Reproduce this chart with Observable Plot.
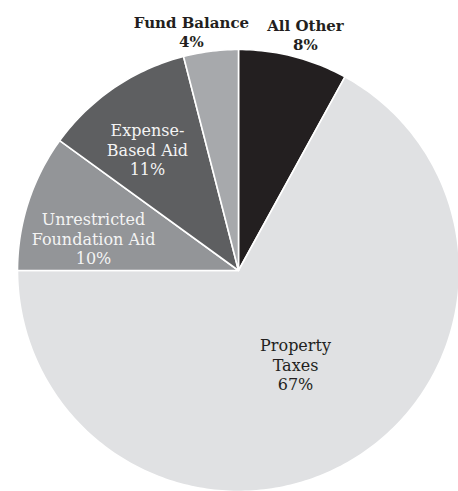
<!DOCTYPE html>
<html>
<head>
<meta charset="utf-8">
<script src="https://cdn.jsdelivr.net/npm/d3@7"></script>
<script src="https://cdn.jsdelivr.net/npm/@observablehq/plot@0.6"></script>
<style>
  html, body { margin: 0; padding: 0; background: #fff; }
</style>
</head>
<body>
<div id="chart"></div>
<script>
// Data (clockwise from 12 o'clock)
const categories = ["All Other", "Property Taxes", "Unrestricted Foundation Aid", "Expense-Based Aid", "Fund Balance"];
const shares = [8, 67, 10, 11, 4];
const labelNames = ["All Other", "Property\nTaxes", "Unrestricted\nFoundation Aid", "Expense-\nBased Aid", "Fund Balance"];
const sliceColors = ["#231f20", "#e0e1e3", "#939598", "#5e5f61", "#a7a9ac"];

// Layout of labels (unit-circle coordinates) and styles
const labelPos = [[0.303, 1.068], [0.258, -0.425], [-0.656, 0.145], [-0.412, 0.548], [-0.213, 1.083]];
const labelInk = ["#231f20", "#231f20", "#f4f4f4", "#f4f4f4", "#231f20"];
const labelWeight = ["bold", "normal", "normal", "normal", "bold"];
const labelSize = [15, 16, 16, 16, 15];

const pie = d3.pie().sort(null).value(d => d.share).startAngle(0).endAngle(2 * Math.PI);
const rows = categories.map((c, i) => ({category: c, share: shares[i]}));
const arcs = pie(rows);

// Slice outlines as closed polygons in unit coordinates
const pts = [];
arcs.forEach(a => {
  const c = a.data.category;
  pts.push({category: c, x: 0, y: 0});
  const n = Math.max(2, Math.ceil((a.endAngle - a.startAngle) / (Math.PI / 180)));
  for (let k = 0; k <= n; k++) {
    const t = a.startAngle + (a.endAngle - a.startAngle) * k / n;
    pts.push({category: c, x: Math.sin(t), y: Math.cos(t)});
  }
  pts.push({category: c, x: 0, y: 0});
});

const labels = categories.map((c, i) => ({
  text: `${labelNames[i]}\n${shares[i]}%`,
  x: labelPos[i][0], y: labelPos[i][1],
  ink: labelInk[i], weight: labelWeight[i], size: labelSize[i]
}));

const textMark = (subset) => Plot.text(subset, {
  x: "x", y: "y", text: "text",
  fill: subset[0].ink, fontSize: subset[0].size, fontWeight: subset[0].weight,
  fontFamily: "DejaVu Serif", lineHeight: subset[0].size === 16 ? 1.2 : 1.25
});

const groups = d3.groups(labels, d => d.ink + "|" + d.weight + "|" + d.size);

const chart = Plot.plot({
  width: 458,
  height: 491,
  margin: 0,
  x: {domain: [-1, 1], range: [17, 459], axis: null},
  y: {domain: [-1, 1], range: [491, 49], axis: null},
  color: {domain: categories, range: sliceColors},
  style: {background: "#fff", fontFamily: "DejaVu Serif"},
  marks: [
    Plot.line(pts, {x: "x", y: "y", z: "category", fill: "category", stroke: "#fff", strokeWidth: 1.6, strokeLinejoin: "round", curve: "linear"}),
    ...groups.map(([key, arr]) => textMark(arr))
  ]
});
document.getElementById("chart").appendChild(chart);
</script>
</body>
</html>
